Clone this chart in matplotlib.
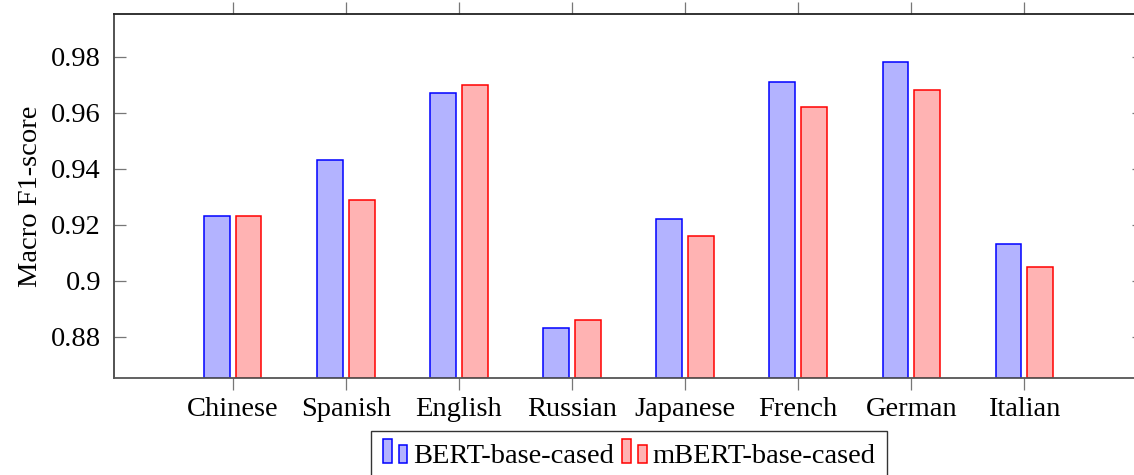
import matplotlib
matplotlib.use("Agg")
import matplotlib.pyplot as plt
import numpy as np
from matplotlib.patches import Rectangle
from matplotlib.legend_handler import HandlerBase

categories = ["Chinese", "Spanish", "English", "Russian", "Japanese", "French", "German", "Italian"]
bert = [0.923, 0.943, 0.967, 0.883, 0.922, 0.971, 0.978, 0.913]
mbert = [0.923, 0.929, 0.970, 0.886, 0.916, 0.962, 0.968, 0.905]
series_names = ["BERT-base-cased", "mBERT-base-cased"]
yticks = [0.88, 0.90, 0.92, 0.94, 0.96, 0.98]
yticklabels = ["0.88", "0.9", "0.92", "0.94", "0.96", "0.98"]

plt.rcParams['font.family'] = ['Liberation Serif', 'DejaVu Serif']

fig = plt.figure(figsize=(11.34, 4.75), dpi=100)
ax = fig.add_axes([0.1001, 0.2032, 1.0084 - 0.1001, 0.9695 - 0.2032])

x = np.arange(len(categories))
w = 0.228
off = 0.14
ymin = 0.8651
b1 = ax.bar(x - off, np.array(bert) - ymin, w, bottom=ymin, color='#b3b3ff', edgecolor='#0000ff', linewidth=1.1, label=series_names[0])
b2 = ax.bar(x + off, np.array(mbert) - ymin, w, bottom=ymin, color='#ffb3b3', edgecolor='#ff0000', linewidth=1.1, label=series_names[1])

ax.set_xlim(-1.054, 8.054)
ax.set_ylim(ymin, 0.9951)
ax.set_xticks(x)
ax.set_xticklabels(categories, fontsize=20.5)
ax.set_yticks(yticks)
ax.set_yticklabels(yticklabels, fontsize=20.5)
ax.set_ylabel("Macro F1-score", fontsize=20.5, labelpad=6)

ax.tick_params(axis='x', direction='out', top=True, bottom=True, length=8.3, width=0.9, color='#777777', pad=5)
ax.tick_params(axis='y', direction='in', left=True, right=True, length=8.3, width=0.9, color='#777777', pad=9)
for s in ax.spines.values():
    s.set_linewidth(1.3)
    s.set_color('#222222')
ax.spines['bottom'].set_color('#555555')
ax.spines['left'].set_color('#444444')


class TwoBarHandler(HandlerBase):
    def create_artists(self, legend, orig_handle, xdescent, ydescent, width, height, fontsize, trans):
        fc = orig_handle.get_facecolor()
        ec = orig_handle.get_edgecolor()
        bw = width * 0.36
        y0 = -ydescent
        r1 = Rectangle((-xdescent, y0), bw, fontsize * 0.84,
                       facecolor=fc, edgecolor=ec, linewidth=1.1, transform=trans)
        r2 = Rectangle((-xdescent + width * 0.64, y0), bw, fontsize * 0.63,
                       facecolor=fc, edgecolor=ec, linewidth=1.1, transform=trans)
        return [r1, r2]


handles = [b1.patches[0], b2.patches[0]]
leg = fig.legend(handles, series_names, loc='upper center', bbox_to_anchor=(0.5547, 0.0916),
                 ncol=2, fontsize=20.5, frameon=True, fancybox=False, framealpha=1,
                 edgecolor='#333333', handler_map={Rectangle: TwoBarHandler()},
                 handlelength=0.86, handleheight=0.7, handletextpad=0.19, columnspacing=0.3,
                 borderpad=0.42, borderaxespad=0)
leg.get_frame().set_linewidth(1.0)

fig.savefig("out.png", dpi=100)
